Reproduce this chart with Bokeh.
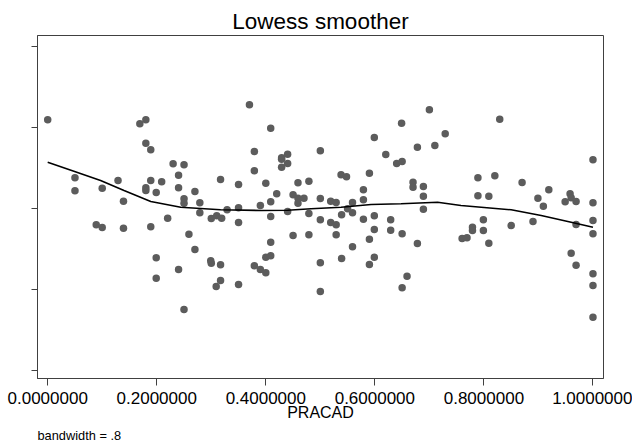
from bokeh.plotting import figure
from bokeh.models import Range1d, FixedTicker, PrintfTickFormatter, Title
from bokeh.embed import file_html
from bokeh.resources import INLINE

# ---- data ----
pracad = [0.000, 0.169, 0.180, 0.180, 0.189, 0.230, 0.250, 0.240, 0.050, 0.129,
          0.189, 0.209, 0.317, 0.050, 0.100, 0.180, 0.180, 0.199, 0.240, 0.270,
          0.139, 0.250, 0.250, 0.279, 0.279, 0.220, 0.300, 0.310, 0.089, 0.100,
          0.139, 0.189, 0.259, 0.270, 0.199, 0.299, 0.300, 0.317, 0.240, 0.199,
          0.309, 0.317, 0.250,
          0.370, 0.409, 0.649, 0.599, 0.379, 0.500, 0.440, 0.429, 0.429, 0.440,
          0.429, 0.620, 0.640, 0.650, 0.678, 0.379, 0.350, 0.400, 0.459, 0.479,
          0.538, 0.548, 0.590, 0.670, 0.670, 0.579, 0.420, 0.450, 0.459, 0.470,
          0.459, 0.500, 0.519, 0.529, 0.559, 0.579, 0.329, 0.350, 0.390, 0.409,
          0.319, 0.350, 0.409, 0.440, 0.479, 0.500, 0.519, 0.529, 0.539, 0.550,
          0.559, 0.579, 0.599, 0.629, 0.629, 0.599, 0.650, 0.678, 0.450, 0.479,
          0.529, 0.590, 0.559, 0.409, 0.400, 0.409, 0.539, 0.599, 0.590, 0.379,
          0.390, 0.400, 0.500, 0.659, 0.350, 0.650, 0.500,
          0.700, 0.829, 0.729, 0.710, 1.000, 0.789, 0.820, 0.870, 0.689, 0.689,
          0.689, 0.919, 0.789, 0.809, 0.899, 0.909, 0.958, 0.960, 0.949, 0.969,
          1.000, 1.000, 1.000, 0.969, 0.799, 0.850, 0.890, 0.779, 0.779, 0.799,
          0.760, 0.769, 0.809, 0.960, 0.969, 1.000, 1.000, 1.000]

outcome = [1.098, 1.049, 1.098, 0.809, 0.727, 0.554, 0.541, 0.412, 0.380, 0.347,
           0.347, 0.331, 0.359, 0.219, 0.251, 0.256, 0.223, 0.198, 0.256, 0.211,
           0.090, 0.120, 0.066, 0.071, -0.053, -0.120, -0.124, -0.090, -0.202, -0.235,
           -0.244, -0.227, -0.318, -0.508, -0.611, -0.648, -0.677, -0.697, -0.755, -0.863,
           -0.966, -0.892, -1.251,
           1.284, 0.994, 1.056, 0.879, 0.706, 0.715, 0.672, 0.628, 0.611, 0.557,
           0.511, 0.669, 0.557, 0.582, 0.759, 0.467, 0.297, 0.313, 0.318, 0.338,
           0.417, 0.393, 0.437, 0.326, 0.264, 0.232, 0.182, 0.170, 0.128, 0.128,
           0.066, 0.124, 0.090, 0.074, 0.074, 0.108, -0.016, 0.009, 0.037, 0.083,
           -0.120, -0.173, -0.099, -0.037, -0.062, -0.140, -0.173, -0.202, -0.078, -0.004,
           -0.053, -0.133, -0.090, -0.140, -0.269, -0.260, -0.313, -0.433, -0.334, -0.326,
           -0.326, -0.380, -0.474, -0.417, -0.603, -0.586, -0.619, -0.603, -0.693, -0.710,
           -0.755, -0.796, -0.672, -0.838, -0.941, -0.982, -1.028,
           1.222, 1.106, 0.925, 0.780, 0.603, 0.380, 0.405, 0.322, 0.272, 0.152,
           -0.009, 0.232, 0.157, 0.152, 0.128, 0.028, 0.182, 0.133, 0.083, 0.087,
           0.071, -0.149, -0.313, -0.198, -0.140, -0.211, -0.161, -0.232, -0.272, -0.272,
           -0.372, -0.363, -0.430, -0.554, -0.702, -0.809, -0.954, -1.346]

lowess_x = [0.000, 0.048, 0.097, 0.140, 0.189, 0.244, 0.317, 0.391, 0.440, 0.483,
            0.538, 0.593, 0.648, 0.715, 0.758, 0.850, 0.905, 0.960, 1.000]
lowess_y = [0.573, 0.462, 0.347, 0.223, 0.087, 0.016, -0.016, -0.025, -0.021, -0.004,
            0.016, 0.050, 0.058, 0.078, 0.037, -0.016, -0.087, -0.170, -0.232]

x_ticks = [0.0, 0.2, 0.4, 0.6, 0.8, 1.0]
y_ticks = [-2, -1, 0, 1, 2]

title_text = "Lowess smoother"
x_label = "PRACAD"
note_text = "bandwidth = .8"

FONT = "Liberation Sans"

p = figure(width=632, height=446, output_backend="svg", toolbar_location=None,
           x_range=Range1d(-0.0187, 1.0193), y_range=Range1d(-2.105, 2.142),
           min_border_left=37, min_border_right=29, min_border_top=35,
           min_border_bottom=68)

p.title.text = title_text
p.title.align = "center"
p.title.text_font = FONT
p.title.text_font_size = "22.5px"
p.title.text_font_style = "normal"
p.title.text_color = "black"
p.title.standoff = 4

p.background_fill_color = "white"
p.border_fill_color = "white"
p.outline_line_color = "#404040"
p.outline_line_width = 1
p.xgrid.visible = False
p.ygrid.visible = False

p.scatter(pracad, outcome, size=7.5, fill_color="#5c5c5c", line_color="#5c5c5c",
          line_width=0)
p.line(lowess_x, lowess_y, line_color="black", line_width=1.6)

xa = p.xaxis[0]
xa.ticker = FixedTicker(ticks=x_ticks)
xa.formatter = PrintfTickFormatter(format="%.7f")
xa.minor_tick_line_color = None
xa.major_tick_out = 7
xa.major_tick_in = 0
xa.major_tick_line_color = "#404040"
xa.axis_line_color = "#404040"
xa.major_label_text_font = FONT
xa.major_label_text_font_size = "17px"
xa.major_label_text_color = "black"
xa.major_label_standoff = 6
xa.axis_label = x_label
xa.axis_label_text_font = FONT
xa.axis_label_text_font_size = "16px"
xa.axis_label_text_font_style = "normal"
xa.axis_label_text_color = "black"
xa.axis_label_standoff = -3

ya = p.yaxis[0]
ya.ticker = FixedTicker(ticks=y_ticks)
ya.minor_tick_line_color = None
ya.major_tick_out = 6
ya.major_tick_in = 0
ya.major_tick_line_color = "#404040"
ya.axis_line_color = "#404040"
ya.major_label_overrides = {t: "" for t in y_ticks}
ya.major_label_standoff = 0

note = Title(text=note_text, align="left", text_font=FONT, text_font_size="12.8px",
             text_font_style="normal", text_color="black", standoff=5)
p.add_layout(note, "below")

open("out.html", "w").write(file_html(p, INLINE))
